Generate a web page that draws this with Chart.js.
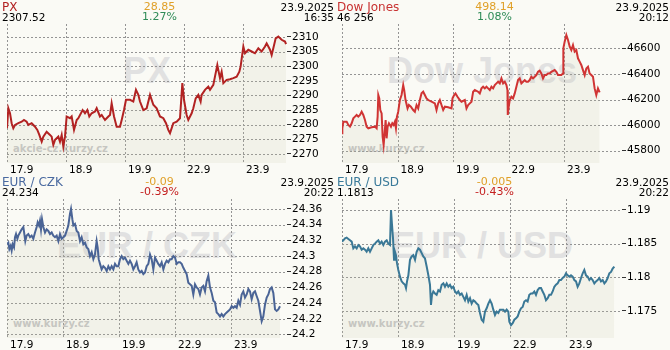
<!DOCTYPE html>
<html><head><meta charset="utf-8">
<script src="https://cdn.jsdelivr.net/npm/chart.js@4/dist/chart.umd.min.js"></script>
<style>
html,body{margin:0;padding:0;background:#fafaf5;}
#wrap{position:relative;width:670px;height:350px;overflow:hidden;font-family:"DejaVu Sans",Verdana,sans-serif;}
.panel{position:absolute;width:335px;height:175px;}
.panel canvas{position:absolute;left:0;top:0;z-index:1;}
.wm{position:absolute;left:7px;width:280px;top:52.8px;text-align:center;font:bold 36px "Liberation Sans",Arial,sans-serif;line-height:36px;color:#e1e1e1;white-space:nowrap;z-index:0;}
.wms{position:absolute;left:13px;top:143.5px;font:bold 10px "DejaVu Sans",sans-serif;line-height:10px;color:#c6c6c6;z-index:0;white-space:nowrap;}
.t{position:absolute;white-space:nowrap;z-index:2;}
.title{left:2px;top:1px;font-size:12px;line-height:12px;}
.last{left:2px;top:11.8px;font-size:10.5px;line-height:10.5px;color:#000;}
.date{right:1px;top:1.8px;font-size:10.5px;line-height:10.5px;color:#000;text-align:right;}
.time{right:1px;top:11.8px;font-size:10.5px;line-height:10.5px;color:#000;text-align:right;}
.chg{left:109.5px;width:100px;top:0.7px;font-size:11px;line-height:11px;text-align:center;color:#e0a028;}
.pct{left:109.5px;width:100px;top:11.4px;font-size:11px;line-height:11px;text-align:center;}
</style>
</head><body>
<div id="wrap"></div>
<script>
// ---- data ----
const dayLabels = ['17.9','18.9','19.9','22.9','23.9'];
const names = ['PX','Dow Jones','EUR / CZK','EUR / USD'];
const lastValues = ['2307.52','46 256','24.234','1.1813'];
const changes = ['28.85','498.14','-0.09','-0.005'];
const changePct = ['1.27%','1.08%','-0.39%','-0.43%'];
const dates = ['23.9.2025','23.9.2025','23.9.2025','23.9.2025'];
const times = ['16:35','20:12','20:22','20:22'];
const sites = ['akcie-cz.kurzy.cz','www.kurzy.cz','www.kurzy.cz','www.kurzy.cz'];

const pxTicks = [2270,2275,2280,2285,2290,2295,2300,2305,2310];
const djTicks = [45800,46000,46200,46400,46600];
const czkTicks = [24.2,24.22,24.24,24.26,24.28,24.3,24.32,24.34,24.36];
const usdTicks = [1.175,1.18,1.185,1.19];

// [time in trading days since 17.9, value]
const pxData = [[0,2278.8],[0.023,2285.6],[0.051,2283.9],[0.079,2280.5],[0.107,2278.8],[0.136,2279.9],[0.192,2280.5],[0.249,2281.0],[0.288,2281.6],[0.333,2281.0],[0.362,2279.9],[0.418,2280.5],[0.475,2279.3],[0.514,2278.2],[0.548,2276.5],[0.588,2274.2],[0.616,2275.9],[0.672,2277.6],[0.729,2276.5],[0.757,2275.9],[0.785,2273.1],[0.814,2274.8],[0.870,2275.9],[0.898,2274.2],[0.927,2276.5],[0.955,2272.5],[0.983,2275.9],[1.011,2282.8],[1.068,2282.2],[1.096,2282.8],[1.136,2278.2],[1.181,2281.6],[1.209,2282.2],[1.282,2285.0],[1.322,2283.9],[1.362,2285.0],[1.395,2282.8],[1.435,2283.9],[1.492,2284.5],[1.520,2285.6],[1.576,2282.8],[1.605,2283.3],[1.661,2281.6],[1.718,2282.8],[1.746,2283.3],[1.774,2287.3],[1.814,2282.8],[1.859,2279.3],[1.915,2279.3],[1.944,2281.6],[1.983,2285.0],[2.017,2288.5],[2.085,2288.5],[2.141,2287.9],[2.186,2291.9],[2.226,2290.2],[2.254,2287.9],[2.311,2285.0],[2.367,2285.6],[2.424,2290.2],[2.480,2286.8],[2.537,2285.6],[2.593,2282.8],[2.650,2282.2],[2.695,2280.5],[2.734,2278.2],[2.763,2277.1],[2.819,2280.5],[2.876,2281.0],[2.932,2282.2],[2.972,2294.2],[3.000,2288.5],[3.045,2283.3],[3.073,2281.6],[3.130,2283.9],[3.158,2285.6],[3.198,2289.0],[3.243,2290.2],[3.282,2287.9],[3.299,2290.2],[3.356,2291.9],[3.412,2293.0],[3.441,2291.9],[3.497,2293.6],[3.525,2296.4],[3.565,2300.4],[3.610,2295.9],[3.638,2298.1],[3.667,2294.2],[3.723,2295.3],[3.780,2295.5],[3.836,2295.9],[3.893,2296.4],[3.938,2298.1],[3.960,2299.9],[4.006,2306.7],[4.034,2304.4],[4.090,2305.6],[4.147,2305.0],[4.203,2304.4],[4.260,2306.1],[4.316,2305.0],[4.373,2306.7],[4.401,2307.8],[4.458,2305.6],[4.486,2303.8],[4.514,2306.1],[4.554,2309.5],[4.599,2310.1],[4.655,2309.0],[4.712,2308.4],[4.730,2307.5]];

const djData = [[0,45936],[0.006,45975],[0.024,46027],[0.084,46027],[0.114,46001],[0.144,45988],[0.174,46014],[0.204,46053],[0.234,46066],[0.264,46079],[0.294,46066],[0.324,46079],[0.354,46105],[0.384,46079],[0.414,46040],[0.444,45988],[0.474,45975],[0.534,45983],[0.594,45988],[0.624,45975],[0.642,46066],[0.654,46235],[0.672,46209],[0.690,46118],[0.714,46092],[0.732,45910],[0.750,45845],[0.768,45936],[0.786,46040],[0.804,45897],[0.822,45988],[0.846,46014],[0.882,45988],[0.906,46014],[0.930,46001],[0.954,46027],[0.972,45975],[0.990,46066],[1.013,46105],[1.043,46196],[1.073,46235],[1.103,46313],[1.121,46274],[1.145,46196],[1.181,46131],[1.205,46157],[1.241,46144],[1.283,46118],[1.313,46105],[1.343,46157],[1.373,46131],[1.403,46196],[1.433,46248],[1.463,46261],[1.493,46235],[1.523,46209],[1.553,46196],[1.613,46183],[1.673,46170],[1.703,46118],[1.733,46170],[1.763,46196],[1.793,46157],[1.823,46118],[1.853,46144],[1.913,46139],[1.973,46131],[1.991,46209],[2.021,46235],[2.045,46248],[2.081,46222],[2.123,46196],[2.153,46183],[2.213,46196],[2.243,46131],[2.273,46157],[2.303,46170],[2.333,46183],[2.363,46261],[2.393,46274],[2.453,46261],[2.483,46248],[2.513,46287],[2.543,46300],[2.573,46287],[2.603,46300],[2.633,46287],[2.663,46274],[2.693,46300],[2.723,46287],[2.753,46313],[2.783,46326],[2.813,46339],[2.843,46326],[2.873,46365],[2.903,46326],[2.933,46339],[2.963,46313],[2.981,46274],[2.987,46079],[3.004,46144],[3.022,46196],[3.052,46222],[3.082,46209],[3.112,46248],[3.142,46300],[3.172,46352],[3.202,46365],[3.232,46326],[3.262,46339],[3.292,46352],[3.322,46339],[3.352,46339],[3.382,46352],[3.412,46378],[3.442,46365],[3.472,46378],[3.502,46391],[3.532,46417],[3.562,46425],[3.592,46404],[3.622,46365],[3.652,46391],[3.682,46391],[3.712,46404],[3.742,46404],[3.772,46417],[3.832,46430],[3.862,46417],[3.892,46391],[3.952,46391],[3.982,46404],[3.988,46600],[4.012,46652],[4.042,46704],[4.072,46665],[4.103,46613],[4.132,46587],[4.162,46626],[4.192,46574],[4.222,46587],[4.252,46522],[4.282,46496],[4.312,46470],[4.342,46430],[4.372,46391],[4.402,46443],[4.432,46456],[4.462,46404],[4.492,46391],[4.522,46378],[4.552,46287],[4.582,46235],[4.612,46287],[4.642,46256]];

const czkData = [[0,24.315],[0.024,24.317],[0.042,24.309],[0.065,24.313],[0.083,24.307],[0.101,24.315],[0.125,24.311],[0.143,24.324],[0.161,24.328],[0.185,24.322],[0.202,24.326],[0.232,24.330],[0.262,24.334],[0.292,24.337],[0.310,24.328],[0.327,24.319],[0.351,24.326],[0.381,24.328],[0.411,24.324],[0.440,24.326],[0.470,24.322],[0.500,24.330],[0.530,24.337],[0.548,24.343],[0.571,24.339],[0.589,24.345],[0.607,24.334],[0.625,24.347],[0.649,24.337],[0.679,24.330],[0.708,24.334],[0.738,24.332],[0.768,24.328],[0.798,24.330],[0.827,24.326],[0.857,24.324],[0.887,24.326],[0.917,24.319],[0.946,24.328],[0.976,24.322],[1.006,24.324],[1.036,24.326],[1.065,24.332],[1.095,24.339],[1.125,24.354],[1.143,24.360],[1.167,24.347],[1.185,24.339],[1.214,24.341],[1.244,24.332],[1.274,24.330],[1.304,24.319],[1.333,24.324],[1.363,24.315],[1.393,24.317],[1.423,24.311],[1.452,24.309],[1.482,24.300],[1.512,24.305],[1.542,24.296],[1.571,24.302],[1.601,24.319],[1.619,24.311],[1.637,24.296],[1.661,24.290],[1.690,24.283],[1.720,24.287],[1.750,24.285],[1.780,24.281],[1.810,24.287],[1.839,24.283],[1.869,24.287],[1.899,24.283],[1.929,24.290],[1.958,24.287],[1.988,24.287],[2.018,24.296],[2.048,24.300],[2.077,24.296],[2.107,24.298],[2.137,24.294],[2.167,24.290],[2.196,24.294],[2.226,24.290],[2.256,24.283],[2.286,24.287],[2.315,24.292],[2.345,24.283],[2.375,24.279],[2.405,24.281],[2.435,24.277],[2.464,24.279],[2.494,24.287],[2.524,24.290],[2.554,24.302],[2.583,24.296],[2.613,24.283],[2.643,24.298],[2.673,24.294],[2.702,24.290],[2.732,24.287],[2.762,24.292],[2.792,24.283],[2.821,24.290],[2.851,24.294],[2.881,24.292],[2.911,24.296],[2.940,24.296],[2.970,24.300],[3.000,24.298],[3.030,24.290],[3.060,24.292],[3.089,24.292],[3.119,24.290],[3.149,24.285],[3.179,24.281],[3.208,24.277],[3.238,24.266],[3.268,24.264],[3.298,24.262],[3.327,24.251],[3.357,24.264],[3.387,24.260],[3.417,24.258],[3.446,24.251],[3.476,24.260],[3.506,24.262],[3.536,24.255],[3.565,24.268],[3.595,24.275],[3.625,24.260],[3.655,24.253],[3.685,24.243],[3.714,24.241],[3.744,24.228],[3.774,24.226],[3.804,24.223],[3.833,24.226],[3.863,24.223],[3.893,24.226],[3.923,24.228],[3.952,24.230],[3.982,24.232],[4.012,24.236],[4.042,24.234],[4.071,24.236],[4.101,24.234],[4.131,24.243],[4.161,24.238],[4.190,24.251],[4.220,24.255],[4.250,24.247],[4.280,24.251],[4.310,24.258],[4.339,24.255],[4.369,24.245],[4.399,24.253],[4.429,24.255],[4.458,24.249],[4.488,24.243],[4.518,24.230],[4.548,24.217],[4.577,24.223],[4.607,24.238],[4.637,24.247],[4.667,24.251],[4.696,24.258],[4.726,24.260],[4.756,24.253],[4.786,24.232],[4.815,24.230],[4.845,24.232],[4.875,24.236]];

const usdData = [[0,1.1853],[0.024,1.1855],[0.054,1.1858],[0.083,1.1859],[0.113,1.1857],[0.143,1.1855],[0.173,1.1853],[0.202,1.1843],[0.232,1.1846],[0.262,1.1843],[0.292,1.1848],[0.321,1.1846],[0.351,1.1841],[0.381,1.1843],[0.411,1.1841],[0.440,1.1838],[0.470,1.1843],[0.500,1.1838],[0.530,1.1843],[0.560,1.1848],[0.589,1.1850],[0.619,1.1853],[0.649,1.1855],[0.679,1.1850],[0.708,1.1853],[0.738,1.1848],[0.768,1.1853],[0.798,1.1855],[0.827,1.1850],[0.857,1.1848],[0.875,1.1900],[0.893,1.1878],[0.911,1.1858],[0.929,1.1826],[0.946,1.1838],[0.964,1.1833],[0.982,1.1821],[1.006,1.1811],[1.036,1.1801],[1.065,1.1794],[1.095,1.1791],[1.125,1.1789],[1.143,1.1784],[1.161,1.1794],[1.185,1.1803],[1.214,1.1826],[1.244,1.1831],[1.274,1.1833],[1.304,1.1826],[1.333,1.1838],[1.363,1.1843],[1.393,1.1841],[1.423,1.1836],[1.452,1.1831],[1.482,1.1828],[1.512,1.1816],[1.542,1.1803],[1.571,1.1789],[1.589,1.1759],[1.607,1.1774],[1.631,1.1779],[1.661,1.1776],[1.690,1.1774],[1.720,1.1781],[1.750,1.1779],[1.780,1.1789],[1.810,1.1791],[1.839,1.1786],[1.869,1.1791],[1.899,1.1786],[1.929,1.1789],[1.958,1.1784],[1.988,1.1786],[2.018,1.1779],[2.048,1.1776],[2.077,1.1779],[2.107,1.1774],[2.137,1.1776],[2.167,1.1771],[2.196,1.1766],[2.226,1.1774],[2.256,1.1764],[2.286,1.1769],[2.315,1.1761],[2.345,1.1766],[2.375,1.1764],[2.405,1.1761],[2.435,1.1759],[2.464,1.1747],[2.494,1.1737],[2.524,1.1734],[2.554,1.1749],[2.583,1.1754],[2.613,1.1761],[2.643,1.1766],[2.673,1.1761],[2.702,1.1752],[2.732,1.1744],[2.762,1.1749],[2.792,1.1747],[2.821,1.1752],[2.851,1.1752],[2.881,1.1752],[2.911,1.1749],[2.940,1.1752],[2.970,1.1749],[2.988,1.1734],[3.018,1.1729],[3.048,1.1732],[3.077,1.1737],[3.107,1.1739],[3.137,1.1742],[3.167,1.1749],[3.196,1.1754],[3.226,1.1756],[3.256,1.1764],[3.286,1.1766],[3.315,1.1764],[3.345,1.1774],[3.375,1.1776],[3.405,1.1776],[3.435,1.1779],[3.464,1.1774],[3.494,1.1781],[3.524,1.1784],[3.554,1.1784],[3.583,1.1779],[3.613,1.1774],[3.643,1.1766],[3.673,1.1769],[3.702,1.1774],[3.732,1.1774],[3.762,1.1779],[3.792,1.1786],[3.821,1.1789],[3.851,1.1791],[3.881,1.1796],[3.911,1.1796],[3.940,1.1799],[3.970,1.1801],[4.000,1.1806],[4.030,1.1803],[4.060,1.1801],[4.089,1.1803],[4.119,1.1801],[4.149,1.1796],[4.179,1.1794],[4.208,1.1786],[4.238,1.1791],[4.268,1.1799],[4.298,1.1806],[4.327,1.1811],[4.357,1.1803],[4.387,1.1801],[4.417,1.1796],[4.446,1.1799],[4.476,1.1796],[4.506,1.1791],[4.536,1.1794],[4.565,1.1796],[4.595,1.1799],[4.625,1.1794],[4.655,1.1796],[4.685,1.1791],[4.714,1.1794],[4.744,1.1799],[4.774,1.1806],[4.804,1.1808],[4.833,1.1813],[4.863,1.1816]];

// ---- panels ----
const panels = [
  {data: pxData,  ticks: pxTicks,  yMin: 2266.9, yMax: 2314.4, xMax: 4.746, line: '#b22222', title: '#b22222', left: 0,   top: 0},
  {data: djData,  ticks: djTicks,  yMin: 45704,  yMax: 46790,  xMax: 5.045, line: '#d03434', title: '#c83232', left: 335, top: 0},
  {data: czkData, ticks: czkTicks, yMin: 24.1955, yMax: 24.3727, xMax: 5.0, line: '#4a6496', title: '#4a6aa0', left: 0,   top: 175},
  {data: usdData, ticks: usdTicks, yMin: 1.17099, yMax: 1.19163, xMax: 5.0, line: '#3a7896', title: '#3a7a9a', left: 335, top: 175}
];

// dotted grid (2px on / 2px off) placed by the chart's own scales, under the line
const dashGrid = {
  id: 'dashGrid',
  beforeDatasetsDraw(chart) {
    const ctx = chart.ctx, a = chart.chartArea, xs = chart.scales.x, ys = chart.scales.y;
    const L = Math.round(a.left), R = Math.round(a.right), T = Math.round(a.top), B = Math.round(a.bottom);
    ctx.save();
    ctx.fillStyle = '#949494';
    for (let k = 0; k < xs.ticks.length; k++) {
      const px = Math.round(xs.getPixelForValue(xs.ticks[k].value));
      for (let yy = T; yy < B; yy += 4) ctx.fillRect(px, yy, 1, 2);
    }
    for (let k = 0; k < ys.ticks.length; k++) {
      const py = Math.round(ys.getPixelForValue(ys.ticks[k].value));
      for (let xx = L; xx < R; xx += 4) ctx.fillRect(xx, py, 2, 1);
    }
    ctx.restore();
  }
};

const wrap = document.getElementById('wrap');
const tickFont = {family: '"DejaVu Sans", Verdana, sans-serif', size: 10.5};

panels.forEach((p, i) => {
  const el = document.createElement('div');
  el.className = 'panel';
  el.style.left = p.left + 'px';
  el.style.top = p.top + 'px';
  const neg = changes[i].startsWith('-');
  el.innerHTML =
    '<div class="wm">' + names[i] + '</div>' +
    '<div class="wms">' + sites[i] + '</div>' +
    '<div class="t title" style="color:' + p.title + '">' + names[i] + '</div>' +
    '<div class="t last">' + lastValues[i] + '</div>' +
    '<div class="t chg">' + changes[i] + '</div>' +
    '<div class="t pct" style="color:' + (neg ? '#c42020' : '#2e8b57') + '">' + changePct[i] + '</div>' +
    '<div class="t date">' + dates[i] + '</div>' +
    '<div class="t time">' + times[i] + '</div>';
  const cv = document.createElement('canvas');
  cv.width = 335; cv.height = 175;
  cv.style.width = '335px'; cv.style.height = '175px';
  el.appendChild(cv);
  wrap.appendChild(el);

  new Chart(cv, {
    type: 'line',
    data: {
      datasets: [{
        data: p.data.map(d => ({x: d[0], y: d[1]})),
        borderColor: p.line,
        borderWidth: 2,
        pointRadius: 0,
        tension: 0,
        fill: 'start',
        backgroundColor: 'rgba(200,200,160,0.14)'
      }]
    },
    plugins: [dashGrid],
    options: {
      responsive: false,
      animation: false,
      devicePixelRatio: 1,
      layout: {padding: {left: 7, top: 24, right: 0, bottom: 0}},
      plugins: {legend: {display: false}, tooltip: {enabled: false}},
      scales: {
        x: {
          type: 'linear', min: 0, max: p.xMax,
          afterBuildTicks: s => { s.ticks = dayLabels.map((_, k) => ({value: k})); },
          afterFit: s => { s.height = 12; },
          ticks: {align: 'start', labelOffset: 3, padding: 1.4, maxRotation: 0, autoSkip: false,
                  font: tickFont, color: '#000', callback: (v, k) => dayLabels[k]},
          grid: {display: false, drawTicks: false},
          border: {display: false}
        },
        y: {
          position: 'right', min: p.yMin, max: p.yMax,
          afterBuildTicks: s => { s.ticks = p.ticks.map(v => ({value: v})); },
          afterFit: s => { s.width = 48; },
          ticks: {padding: 1, font: tickFont, color: '#000',
                  callback: (v, k) => String(p.ticks[k])},
          grid: {drawOnChartArea: false, tickLength: 4, tickColor: '#333', tickBorderDash: []},
          border: {display: false}
        }
      }
    }
  });
});
</script>
</body></html>
